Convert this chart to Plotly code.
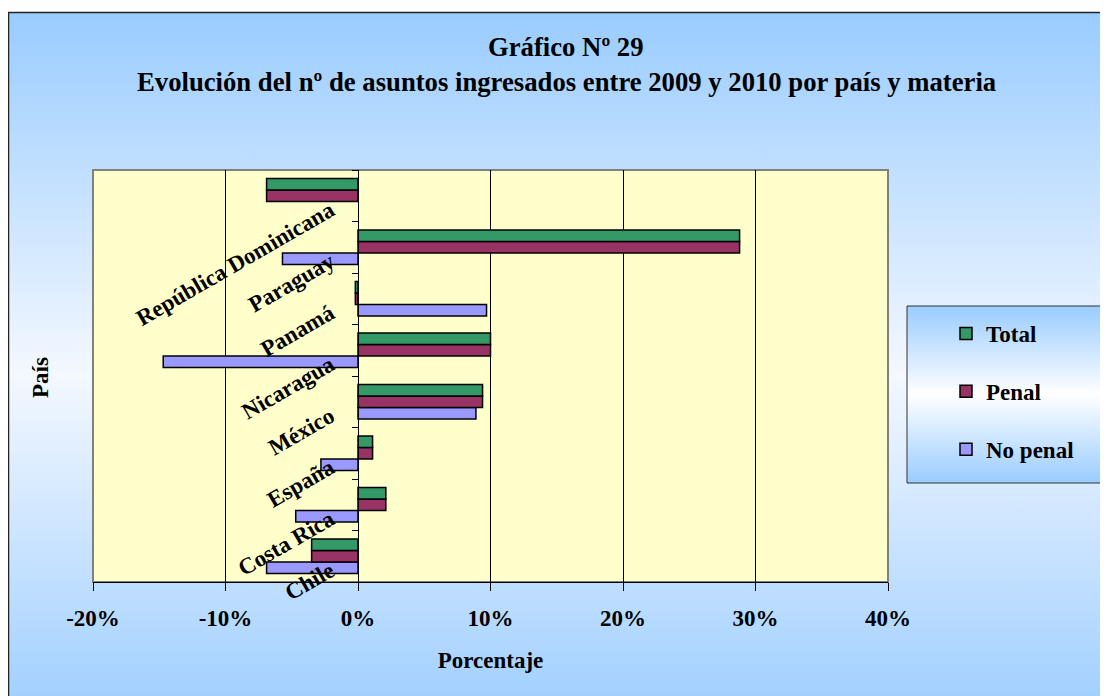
import base64
import plotly.graph_objects as go

paises = ["Chile", "Costa Rica", "España", "México", "Nicaragua", "Panamá", "Paraguay", "República Dominicana"]
total = [-3.5, 2.1, 1.1, 9.4, 10.0, -0.2, 28.8, -6.9]
penal = [-3.5, 2.1, 1.1, 9.4, 10.0, -0.2, 28.8, -6.9]
no_penal = [-6.9, -4.7, -2.8, 8.9, -14.7, 9.7, -5.7, None]
x_ticks = [-20, -10, 0, 10, 20, 30, 40]

FONT = "Liberation Serif"

# page offset of the figure (body margin) and plot-area box in screen pixels (layout only)
OFF = 8
SW, SH = 1108, 696
W, H = SW - OFF, SH - OFF
L, R, T, B = 93, 888, 170, 582
def px(x):
    return (x - L) / (R - L)
def py(y):
    return (B - y) / (B - T)

def grad_svg(c1, c2, c3):
    svg = ('<svg xmlns="http://www.w3.org/2000/svg" width="100" height="100" viewBox="0 0 100 100" preserveAspectRatio="none">'
           '<defs><linearGradient id="g" x1="0" y1="0" x2="0" y2="1">'
           f'<stop offset="0" stop-color="{c1}"/><stop offset="0.5" stop-color="{c2}"/><stop offset="1" stop-color="{c3}"/>'
           '</linearGradient></defs><rect x="0" y="0" width="100" height="100" fill="url(#g)"/></svg>')
    return "data:image/svg+xml;base64," + base64.b64encode(svg.encode()).decode()

fig = go.Figure()
series = [("No penal", no_penal, "#9999FF", 3), ("Penal", penal, "#993366", 2), ("Total", total, "#339966", 1)]
for name, vals, col, rank in series:
    fig.add_trace(go.Bar(
        y=paises, x=vals, name=name, orientation="h", legendgroup=name, legendrank=rank,
        marker=dict(color=col, line=dict(color="black", width=1.5)),
    ))

fig.update_layout(
    width=W, height=H,
    margin=dict(l=L - OFF, r=SW - R, t=T - OFF, b=SH - B),
    paper_bgcolor="white",
    plot_bgcolor="rgba(0,0,0,0)",
    font=dict(family=FONT, size=23, color="black", weight="bold"),
    barmode="group", bargap=0.33, bargroupgap=0,
    showlegend=True,
    legend=dict(x=px(946), y=py(312), xanchor="left", yanchor="top",
                traceorder="grouped", tracegroupgap=25,
                bgcolor="rgba(0,0,0,0)", borderwidth=0,
                font=dict(family=FONT, size=23, weight="bold")),
    xaxis=dict(range=[-20, 40], tickvals=x_ticks, ticktext=[f"{v}%" for v in x_ticks],
               showgrid=True, gridcolor="black", gridwidth=1, zeroline=False,
               showline=True, linecolor="black", linewidth=1,
               ticks="outside", ticklen=8, tickcolor="black", ticklabelstandoff=7,
               tickfont=dict(family=FONT, size=23, weight="bold"),
               title=dict(text="Porcentaje", font=dict(family=FONT, size=23, weight="bold"), standoff=22)),
    yaxis=dict(type="category", categoryorder="array", categoryarray=paises, range=[-0.5, 7.5],
               anchor="free", position=1/3, showgrid=False, zeroline=False,
               showline=True, linecolor="black", linewidth=1,
               ticks="outside", ticklen=6, tickcolor="black", tickson="boundaries",
               tickangle=-30, ticklabelstandoff=23, ticklabelshift=12,
               tickfont=dict(family=FONT, size=23, weight="bold")),
)

# backgrounds
fig.add_layout_image(dict(source=grad_svg("#99CCFF", "#F4F8FF", "#99CCFF"), xref="paper", yref="paper",
                          x=px(7), y=py(12), sizex=px(SW + 30) - px(7), sizey=py(12) - py(SH + 40),
                          xanchor="left", yanchor="top", sizing="stretch", layer="below"))
fig.add_layout_image(dict(source=grad_svg("#99CCFF", "#FFFFFF", "#99CCFF"), xref="paper", yref="paper",
                          x=px(907), y=py(306), sizex=px(SW + 30) - px(907), sizey=py(306) - py(483),
                          xanchor="left", yanchor="top", sizing="stretch", layer="below"))
# outer frame
fig.add_shape(type="rect", xref="paper", yref="paper", x0=px(OFF + 0.5), y0=py(SH + 40), x1=px(SW + 30), y1=py(12.5),
              line=dict(color="#222222", width=1.5), fillcolor="rgba(0,0,0,0)", layer="below")
# legend frame
fig.add_shape(type="rect", xref="paper", yref="paper", x0=px(907), y0=py(483), x1=px(SW + 30), y1=py(306),
              line=dict(color="#333333", width=1), fillcolor="rgba(0,0,0,0)", layer="below")
# plot area
fig.add_shape(type="rect", xref="paper", yref="paper", x0=0, y0=0, x1=1, y1=1,
              line=dict(color="#808080", width=2), fillcolor="#FFFFCC", layer="below")

# titles
fig.add_annotation(text="Gráfico Nº 29", xref="paper", yref="paper", x=px(566), y=py(47),
                   xanchor="center", yanchor="middle",
                   showarrow=False, font=dict(family=FONT, size=26.7, weight="bold"))
fig.add_annotation(text="Evolución del nº de asuntos ingresados entre 2009 y 2010 por país y materia",
                   xref="paper", yref="paper", x=px(566), y=py(82),
                   xanchor="center", yanchor="middle",
                   showarrow=False, font=dict(family=FONT, size=26.7, weight="bold"))
fig.add_annotation(text="País", xref="paper", yref="paper", x=px(40), y=py(378),
                   xanchor="center", yanchor="middle",
                   showarrow=False, textangle=-90, font=dict(family=FONT, size=23, weight="bold"))

fig.write_html("out.html")
